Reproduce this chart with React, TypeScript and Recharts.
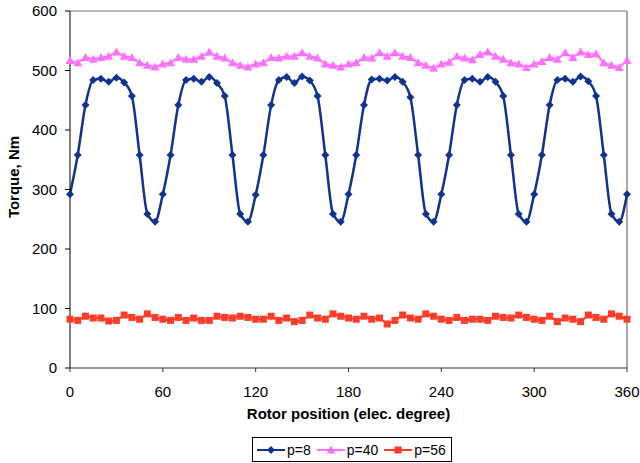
import React from 'react'
import {
  LineChart,
  Line,
  XAxis,
  YAxis,
  ReferenceLine,
  Label
} from 'recharts'

// rotor angle, electrical degrees
const angles = [
  0, 5, 10, 15, 20, 25, 30, 35, 40, 45, 50, 55,
  60, 65, 70, 75, 80, 85, 90, 95, 100, 105, 110, 115,
  120, 125, 130, 135, 140, 145, 150, 155, 160, 165, 170, 175,
  180, 185, 190, 195, 200, 205, 210, 215, 220, 225, 230, 235,
  240, 245, 250, 255, 260, 265, 270, 275, 280, 285, 290, 295,
  300, 305, 310, 315, 320, 325, 330, 335, 340, 345, 350, 355,
  360
]

// torque, Nm
const torqueP8 = [
  292, 358, 442, 484, 486, 481, 488, 480, 457, 358, 259, 246,
  292, 358, 442, 484, 486, 481, 489, 479, 457, 358, 259, 246,
  291, 358, 442, 484, 489, 479, 490, 483, 457, 358, 259, 246,
  292, 358, 442, 485, 486, 483, 489, 481, 455, 358, 259, 246,
  292, 358, 442, 484, 486, 481, 489, 481, 457, 358, 259, 246,
  292, 358, 442, 484, 486, 481, 490, 482, 457, 358, 259, 246,
  292
]

const torqueP40 = [
  517, 513, 522, 519, 522, 524, 531, 524, 522, 513, 509, 506,
  511, 513, 522, 519, 519, 524, 531, 524, 521, 513, 509, 506,
  511, 513, 522, 521, 524, 524, 530, 524, 521, 511, 509, 506,
  511, 513, 522, 521, 530, 524, 530, 524, 522, 513, 509, 504,
  511, 514, 524, 521, 518, 527, 531, 524, 519, 513, 511, 505,
  511, 515, 522, 519, 530, 522, 531, 527, 528, 513, 509, 505,
  517
]

const torqueP56 = [
  82, 80, 87, 84, 84, 79, 80, 89, 85, 82, 91, 85,
  82, 80, 85, 80, 84, 80, 80, 87, 85, 84, 87, 85,
  82, 82, 87, 80, 84, 78, 80, 89, 84, 82, 91, 87,
  84, 82, 87, 82, 84, 74, 80, 89, 84, 82, 91, 87,
  82, 80, 85, 80, 82, 82, 80, 87, 85, 84, 89, 85,
  82, 80, 87, 78, 84, 82, 78, 89, 85, 82, 91, 87,
  82
]

const xTicks = [0, 60, 120, 180, 240, 300, 360]
const yTicks = [0, 100, 200, 300, 400, 500, 600]

const chartData = angles.map((a, i) => ({
  angle: a,
  p8: torqueP8[i],
  p40: torqueP40[i],
  p56: torqueP56[i]
}))

const C_P8 = '#0f338f'
const C_P40 = '#ff70ff'
const C_P56 = '#ff3c28'
const FONT = '"Liberation Sans", Arial, sans-serif'

const Diamond = (props: any) => {
  const { cx, cy, fill } = props
  if (cx == null || cy == null) return null
  return <path d={`M${cx},${cy - 4}L${cx + 4},${cy}L${cx},${cy + 4}L${cx - 4},${cy}Z`} fill={fill} />
}

const Triangle = (props: any) => {
  const { cx, cy, fill } = props
  if (cx == null || cy == null) return null
  return <path d={`M${cx},${cy - 4.5}L${cx + 4.5},${cy + 3.5}L${cx - 4.5},${cy + 3.5}Z`} fill={fill} />
}

const Square = (props: any) => {
  const { cx, cy, fill } = props
  if (cx == null || cy == null) return null
  return <rect x={cx - 3.5} y={cy - 3.5} width={7} height={7} fill={fill} />
}

const series = [
  { key: 'p8', name: 'p=8', color: C_P8, Marker: Diamond },
  { key: 'p40', name: 'p=40', color: C_P40, Marker: Triangle },
  { key: 'p56', name: 'p=56', color: C_P56, Marker: Square }
]

// boxed legend under the x axis title
const BoxLegend = () => (
  <div
    style={{
      position: 'absolute',
      left: 252,
      top: 437,
      width: 200,
      height: 25,
      border: '1px solid #000',
      background: '#fff',
      display: 'flex',
      alignItems: 'center',
      fontFamily: FONT,
      fontSize: 14,
      boxSizing: 'border-box',
      paddingLeft: 4
    }}
  >
    {series.map(s => (
      <div key={s.key} style={{ display: 'flex', alignItems: 'center', marginRight: 6 }}>
        <svg width={28} height={12}>
          <line x1={0} y1={6} x2={28} y2={6} stroke={s.color} strokeWidth={2} />
          <s.Marker cx={14} cy={6} fill={s.color} />
        </svg>
        <span style={{ marginLeft: 2 }}>{s.name}</span>
      </div>
    ))}
  </div>
)

export default function App() {
  return (
    <div style={{ position: 'absolute', left: 0, top: 0, width: 640, height: 463, background: '#fff' }}>
      <LineChart
        width={640}
        height={463}
        data={chartData}
        margin={{ top: 11, right: 13, left: 0, bottom: 0 }}
      >
        <XAxis
          dataKey="angle"
          type="number"
          domain={[0, 360]}
          ticks={xTicks}
          height={95}
          tickSize={4}
          tickMargin={14}
          stroke="#333"
          tick={{ fill: '#000', fontSize: 15, fontFamily: FONT }}
        >
          <Label
            value="Rotor position (elec. degree)"
            position="insideTop"
            offset={40}
            style={{ fill: '#000', fontSize: 15, fontWeight: 'bold', fontFamily: FONT }}
          />
        </XAxis>
        <YAxis
          type="number"
          domain={[0, 600]}
          ticks={yTicks}
          width={70}
          tickSize={5}
          tickMargin={8}
          stroke="#000"
          tick={{ fill: '#000', fontSize: 15, fontFamily: FONT }}
        />
        <text
          x={13}
          y={177}
          transform="rotate(-90 13 177)"
          textAnchor="middle"
          dominantBaseline="central"
          style={{ fill: '#000', fontSize: 15, fontWeight: 'bold', fontFamily: FONT }}
        >
          Torque, Nm
        </text>

        {/* plot area border on top and right */}
        <ReferenceLine y={600} stroke="#a6a6a6" strokeWidth={1.5} />
        <ReferenceLine x={360} stroke="#a6a6a6" strokeWidth={2} />

        <Line
          type="linear"
          dataKey="p56"
          name="p=56"
          stroke={C_P56}
          strokeWidth={2}
          dot={(p: any) => <Square key={`s${p.index}`} {...p} fill={C_P56} />}
          isAnimationActive={false}
        />
        <Line
          type="linear"
          dataKey="p40"
          name="p=40"
          stroke={C_P40}
          strokeWidth={2}
          dot={(p: any) => <Triangle key={`t${p.index}`} {...p} fill={C_P40} />}
          isAnimationActive={false}
        />
        <Line
          type="monotone"
          dataKey="p8"
          name="p=8"
          stroke={C_P8}
          strokeWidth={2.5}
          dot={(p: any) => <Diamond key={`d${p.index}`} {...p} fill={C_P8} />}
          isAnimationActive={false}
        />
      </LineChart>
      <BoxLegend />
    </div>
  )
}
